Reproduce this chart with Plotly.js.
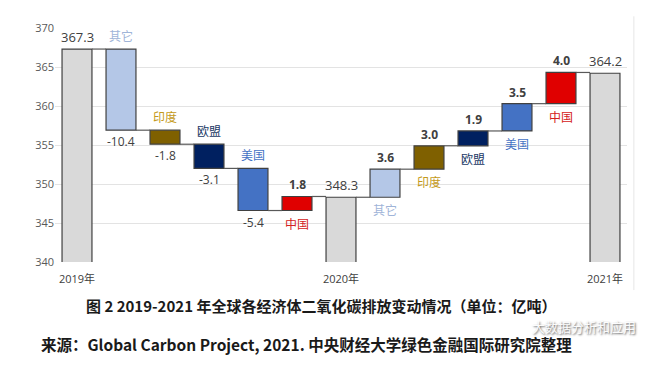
<!DOCTYPE html>
<html><head><meta charset="utf-8">
<script src="https://cdn.plot.ly/plotly-3.0.1.min.js"></script>
<style>html,body{margin:0;padding:0;background:#fff;}#chart{width:660px;height:371px;}</style>
</head><body><div id="chart"></div>
<script>
// ---- data ----
const names = ["2019年","其它","印度","欧盟","美国","中国","2020年","其它","印度","欧盟","美国","中国","2021年"];
const kinds = ["total","delta","delta","delta","delta","delta","total","delta","delta","delta","delta","delta","total"];
const values = [367.3,-10.4,-1.8,-3.1,-5.4,1.8,348.3,3.6,3.0,1.9,3.5,4.0,364.2];
const tickLabels = ["2019年","2020年","2021年"];
const yTicks = [340,345,350,355,360,365,370];

// ---- styles ----
const colorByName = {"2019年":"#d9d9d9","2020年":"#d9d9d9","2021年":"#d9d9d9","其它":"#b4c7e7","印度":"#7f6000","欧盟":"#002060","美国":"#4472c4","中国":"#e00000"};
const nameColor = {"其它":"#9fb4d8","印度":"#c49a1a","欧盟":"#203864","美国":"#4472c4","中国":"#d42020"};
const FONT = "Open Sans, Noto Sans CJK SC, sans-serif";
const W = 0.68;

const xs = names.map((_, i) => i);
const bases = [], lens = [], ends = [];
let level = 0;
values.forEach((v, i) => {
  if (kinds[i] === "total") { bases.push(0); lens.push(v); level = v; ends.push(v); }
  else { const start = level; const end = start + v; bases.push(Math.min(start, end)); lens.push(Math.abs(v)); level = end; ends.push(end); }
});

const bar = {
  type: "bar", x: xs, y: lens, base: bases, width: W,
  marker: { color: names.map(n => colorByName[n]), line: { color: "#404040", width: 1.2 } },
  hoverinfo: "skip", showlegend: false
};

const shapes = [];
for (let i = 0; i < xs.length - 1; i++) {
  shapes.push({ type: "line", xref: "x", yref: "y", x0: i + W/2, x1: i + 1 - W/2, y0: ends[i], y1: ends[i], line: { color: "#595959", width: 1.2 } });
}
shapes.push({ type: "line", xref: "paper", yref: "paper", x0: 1.012, x1: 1.012, y0: -0.12, y1: 1.05, line: { color: "#e6e6e6", width: 1 } });

const annotations = [];
values.forEach((v, i) => {
  const top = bases[i] + lens[i], bottom = bases[i];
  if (kinds[i] === "total") {
    annotations.push({ x: i, y: top, text: v.toFixed(1), showarrow: false, yanchor: "bottom", yshift: 1, font: { family: FONT, size: 13, color: "#404040" } });
  } else {
    const txt = v.toFixed(1);
    const nm = names[i];
    if (v < 0) {
      annotations.push({ x: i, y: bottom, text: txt, showarrow: false, yanchor: "top", yshift: -1, font: { family: FONT, size: 12, color: "#404040" } });
      annotations.push({ x: i, y: top, text: nm, showarrow: false, yanchor: "bottom", yshift: 2, font: { family: FONT, size: 12, color: nameColor[nm] } });
    } else {
      annotations.push({ x: i, y: top, text: "<b>" + txt + "</b>", showarrow: false, yanchor: "bottom", yshift: 1, font: { family: FONT, size: 12, color: "#404040" } });
      annotations.push({ x: i, y: bottom, text: nm, showarrow: false, yanchor: "top", yshift: -3, font: { family: FONT, size: 12, color: nameColor[nm] } });
    }
  }
});
annotations.push({ xref: "paper", yref: "paper", x: 0.465, y: -0.185, yanchor: "middle", text: "<b>图 2 2019-2021 年全球各经济体二氧化碳排放变动情况（单位：亿吨）</b>", showarrow: false, xanchor: "center", font: { family: "Noto Sans CJK SC, sans-serif", size: 15, color: "#1a1a1a" } });
annotations.push({ xref: "paper", yref: "paper", x: -0.028, y: -0.35, yanchor: "middle", text: "<b>来源：Global Carbon Project, 2021. 中央财经大学绿色金融国际研究院整理</b>", showarrow: false, xanchor: "left", font: { family: "Noto Sans CJK SC, sans-serif", size: 15.5, color: "#1a1a1a" } });
annotations.push({ xref: "paper", yref: "paper", x: 1.02, y: -0.275, yanchor: "middle", text: "大数据分析和应用", showarrow: false, xanchor: "right", font: { family: "Noto Sans CJK SC, sans-serif", size: 13, color: "rgba(255,255,255,0.95)", shadow: "1px 1px 2px #555" } });

const layout = {
  width: 660, height: 371,
  margin: { l: 55, r: 33, t: 28, b: 109 },
  paper_bgcolor: "#fff", plot_bgcolor: "#fff",
  xaxis: { range: [-0.5, 12.5], tickvals: [0, 6, 12], ticktext: tickLabels, showgrid: false, zeroline: false, showline: false, ticks: "outside", ticklen: 7, tickcolor: "rgba(0,0,0,0)", tickfont: { family: FONT, size: 11, color: "#404040" } },
  yaxis: { range: [340, 370], tickvals: yTicks, showgrid: true, gridcolor: "#e3e3e3", gridwidth: 1, zeroline: false, ticks: "", tickfont: { family: FONT, size: 11, color: "#595959" } },
  shapes: shapes, annotations: annotations, bargap: 0.3
};
Plotly.newPlot("chart", [bar], layout, { displayModeBar: false, staticPlot: true });
</script></body></html>
